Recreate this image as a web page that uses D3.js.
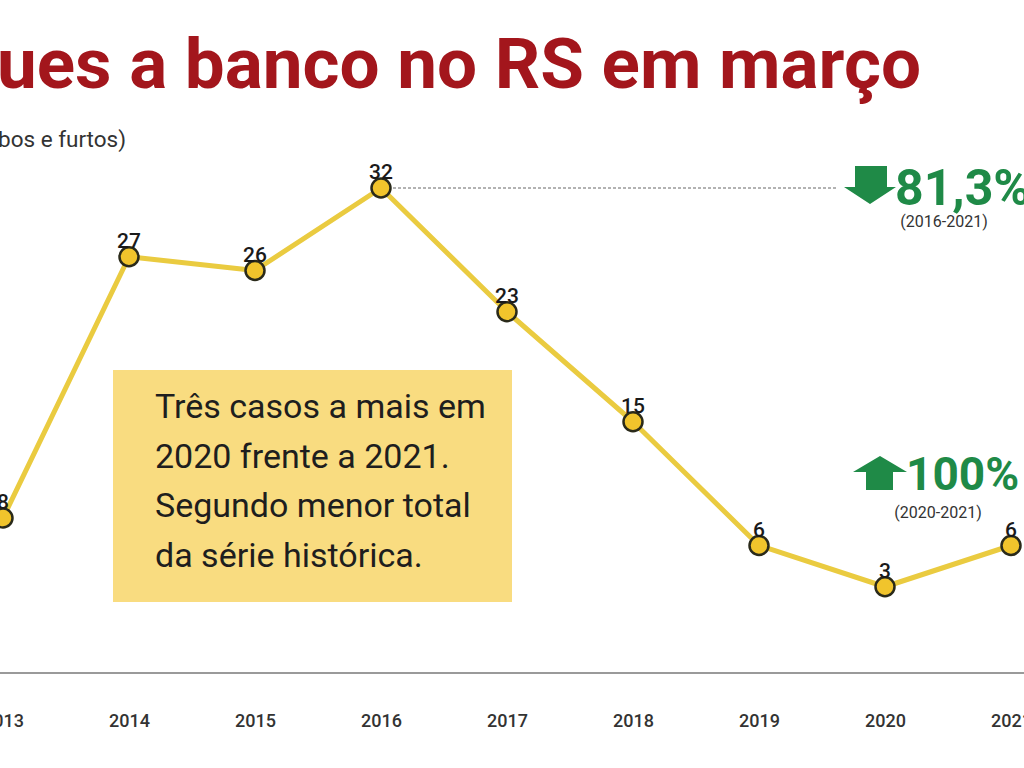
<!DOCTYPE html>
<html><head><meta charset="utf-8">
<script src="https://cdn.jsdelivr.net/npm/d3@7"></script>
<style>body{margin:0;background:#fff;overflow:hidden}svg{display:block;font-family:Roboto,"Noto Sans",sans-serif}</style>
</head><body>
<script>
const years = [2013, 2014, 2015, 2016, 2017, 2018, 2019, 2020, 2021];
const values = [8, 27, 26, 32, 23, 15, 6, 3, 6];
const tickLabels = ["2013", "2014", "2015", "2016", "2017", "2018", "2019", "2020", "2021"];
const titleText = "Ataques a banco no RS em março";
const subtitleText = "(roubos e furtos)";
const noteLines = ["Três casos a mais em", "2020 frente a 2021.", "Segundo menor total", "da série histórica."];
const changeDown = {value: "81,3%", period: "(2016-2021)"};
const changeUp = {value: "100%", period: "(2020-2021)"};

const W = 1024, H = 768;
const svg = d3.select("body").append("svg").attr("width", W).attr("height", H);

const x = d3.scaleLinear().domain([2013, 2021]).range([3, 1011]);
const y = d3.scaleLinear().domain([0, 32]).range([628, 188]);

// title
svg.append("text").attr("x", 921).attr("y", 88).attr("text-anchor", "end")
  .attr("font-size", 71).attr("font-weight", 700).attr("fill", "#a3161c").text(titleText);
svg.append("text").attr("x", 126).attr("y", 147).attr("text-anchor", "end")
  .attr("font-size", 22.5).attr("fill", "#333").text(subtitleText);

// baseline axis
svg.append("line").attr("x1", 0).attr("x2", W).attr("y1", 673).attr("y2", 673)
  .attr("stroke", "#9a9a9a").attr("stroke-width", 2);
const axis = d3.axisBottom(x).tickValues(years).tickFormat((d, i) => tickLabels[i]).tickSize(0).tickPadding(41);
const ag = svg.append("g").attr("transform", "translate(0,673)").call(axis);
ag.select(".domain").remove();
ag.selectAll("text").attr("font-size", 18).attr("font-weight", 500).attr("fill", "#333")
  .attr("font-family", "Roboto, sans-serif");

// note box
svg.append("rect").attr("x", 113).attr("y", 370).attr("width", 399).attr("height", 232).attr("fill", "#f9dc80");
svg.append("g").selectAll("text").data(noteLines).join("text")
  .attr("x", 155).attr("y", (d, i) => 418 + i * 49.5)
  .attr("font-size", 34).attr("fill", "#1e1e1e").text(d => d);

// dashed reference line from 2016 peak
const peakIdx = values.indexOf(d3.max(values));
svg.append("line").attr("x1", x(years[peakIdx]) + 12).attr("x2", 838)
  .attr("y1", y(values[peakIdx])).attr("y2", y(values[peakIdx]))
  .attr("stroke", "#666").attr("stroke-width", 1).attr("stroke-dasharray", "3,2");

// line
const data = years.map((yr, i) => ({yr, v: values[i]}));
svg.append("path").datum(data)
  .attr("d", d3.line().x(d => x(d.yr)).y(d => y(d.v)))
  .attr("fill", "none").attr("stroke", "#eacb40").attr("stroke-width", 5).attr("stroke-linejoin", "round");
svg.append("g").selectAll("circle").data(data).join("circle")
  .attr("cx", d => x(d.yr)).attr("cy", d => y(d.v)).attr("r", 9.5)
  .attr("fill", "#f1c42c").attr("stroke", "#2a2a1a").attr("stroke-width", 2.5);
svg.append("g").selectAll("text").data(data).join("text")
  .attr("x", d => x(d.yr)).attr("y", d => y(d.v) - 9).attr("text-anchor", "middle")
  .attr("font-size", 21).attr("font-weight", 500).attr("fill", "#1a1a1a").text(d => d.v);

// change indicators
const green = "#1f8a47";
svg.append("path").attr("d", "M855,166 L887,166 L887,187 L896,187 L870,204 L844,187 L855,187 Z").attr("fill", green);
svg.append("text").attr("x", 895).attr("y", 205).attr("font-size", 50).attr("font-weight", 700)
  .attr("fill", green).text(changeDown.value);
svg.append("text").attr("x", 944).attr("y", 227).attr("text-anchor", "middle").attr("font-size", 16)
  .attr("fill", "#333").text(changeDown.period);

svg.append("path").attr("d", "M866,490 L893,490 L893,472 L907,472 L880,456 L853,472 L866,472 Z").attr("fill", green);
svg.append("text").attr("x", 906).attr("y", 490).attr("font-size", 46).attr("font-weight", 700)
  .attr("fill", green).text(changeUp.value);
svg.append("text").attr("x", 938).attr("y", 518).attr("text-anchor", "middle").attr("font-size", 16)
  .attr("fill", "#333").text(changeUp.period);
</script>
</body></html>
